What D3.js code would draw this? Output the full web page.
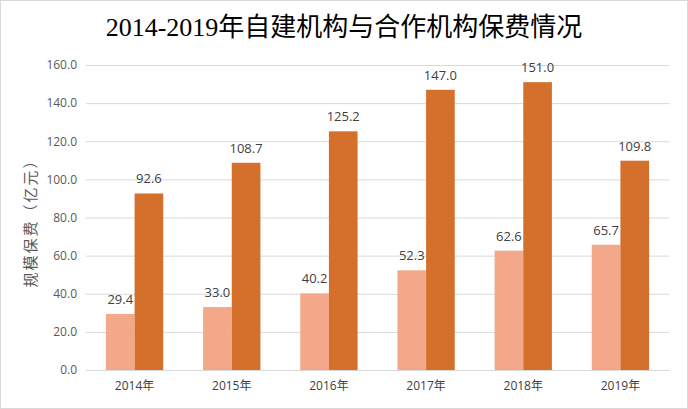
<!DOCTYPE html>
<html>
<head>
<meta charset="utf-8">
<script src="https://cdn.jsdelivr.net/npm/d3@7"></script>
<style>
  body { margin: 0; background: #fff; }
  svg { display: block; }
</style>
</head>
<body>
<svg id="chart"></svg>
<script>
// data
var years = ["2014年", "2015年", "2016年", "2017年", "2018年", "2019年"];
var selfBuilt = [29.4, 33.0, 40.2, 52.3, 62.6, 65.7];
var partner = [92.6, 108.7, 125.2, 147.0, 151.0, 109.8];
var yTicks = [0, 20, 40, 60, 80, 100, 120, 140, 160];
var seriesColors = ["#F2A889", "#D4702C"];

var W = 688, H = 409;
var margin = { top: 65, right: 19, bottom: 39, left: 86 },
    width = W - margin.left - margin.right,
    height = H - margin.top - margin.bottom;

var svg = d3.select("#chart").attr("width", W).attr("height", H);

// outer frame
svg.append("rect")
    .attr("x", 0.5).attr("y", 0.5)
    .attr("width", W - 1).attr("height", H - 1)
    .attr("fill", "#fff")
    .attr("stroke", "#D9D9D9");

// title
svg.append("text")
    .attr("x", W / 2).attr("y", 36)
    .attr("text-anchor", "middle")
    .attr("font-family", "'Liberation Serif', 'Noto Sans CJK SC', serif")
    .attr("font-size", 26)
    .attr("fill", "#000")
    .text("2014-2019年自建机构与合作机构保费情况");

var g = svg.append("g")
    .attr("transform", "translate(" + margin.left + "," + margin.top + ")");

var x0 = d3.scaleBand()
    .domain(years)
    .range([0, width])
    .paddingInner(0.41)
    .paddingOuter(0.205);

var x1 = d3.scaleBand()
    .domain([0, 1])
    .range([0, x0.bandwidth()]);

var y = d3.scaleLinear()
    .domain([0, 160])
    .range([height, 0]);

// gridlines
var yAxis = g.append("g")
    .call(d3.axisLeft(y).tickValues(yTicks).tickSize(-width).tickFormat(d3.format(".1f")));
yAxis.select(".domain").remove();
yAxis.selectAll(".tick line").attr("stroke", "#D9D9D9");
yAxis.selectAll(".tick text")
    .attr("x", -9)
    .attr("fill", "#595959")
    .attr("font-family", "'Open Sans', 'Noto Sans', sans-serif")
    .attr("font-size", 12);

// bars
var rows = years.map(function (yr, i) {
    return { year: yr, values: [selfBuilt[i], partner[i]] };
});

var groups = g.selectAll(".grp")
    .data(rows)
    .enter().append("g")
    .attr("transform", function (d) { return "translate(" + x0(d.year) + ",0)"; });

groups.selectAll("rect")
    .data(function (d) { return d.values.map(function (v, k) { return { k: k, v: v }; }); })
    .enter().append("rect")
    .attr("x", function (d) { return x1(d.k); })
    .attr("y", function (d) { return y(d.v); })
    .attr("width", x1.bandwidth())
    .attr("height", function (d) { return height - y(d.v); })
    .attr("fill", function (d) { return seriesColors[d.k]; });

groups.selectAll(".lbl")
    .data(function (d) { return d.values.map(function (v, k) { return { k: k, v: v }; }); })
    .enter().append("text")
    .attr("x", function (d) { return x1(d.k) + x1.bandwidth() / 2; })
    .attr("y", function (d) { return y(d.v) - 10; })
    .attr("text-anchor", "middle")
    .attr("fill", "#404040")
    .attr("font-family", "'Open Sans', 'Noto Sans', sans-serif")
    .attr("font-size", 13)
    .text(function (d) { return d.v.toFixed(1); });

// x axis
var xAxis = g.append("g")
    .attr("transform", "translate(0," + height + ")")
    .call(d3.axisBottom(x0).tickSize(0).tickPadding(11));
xAxis.select(".domain").attr("stroke", "#D9D9D9");
xAxis.selectAll(".tick text")
    .attr("fill", "#404040")
    .attr("font-family", "'Open Sans', 'Noto Sans CJK SC', sans-serif")
    .attr("font-size", 12);

// y axis title
svg.append("text")
    .attr("transform", "translate(36," + (margin.top + height / 2 + 2) + ") rotate(-90)")
    .attr("text-anchor", "middle")
    .attr("fill", "#595959")
    .attr("font-family", "'Noto Sans CJK SC', sans-serif")
    .attr("font-size", 15)
    .attr("letter-spacing", 2)
    .text("规模保费（亿元）");
</script>
</body>
</html>
